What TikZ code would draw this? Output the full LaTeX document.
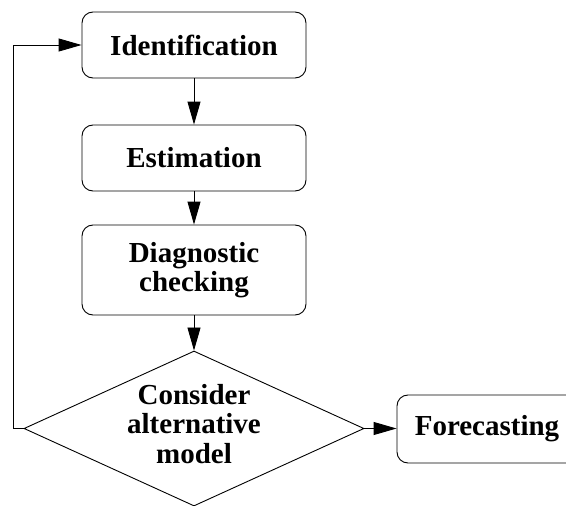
\documentclass[tikz,border=0pt]{standalone}
\usepackage{fontspec}
\setmainfont{Liberation Serif}
\usetikzlibrary{shapes.geometric,arrows.meta}
\begin{document}
\begin{tikzpicture}[x=1pt,y=-1pt,
  every node/.style={font=\fontsize{29}{29.5}\selectfont\bfseries, align=center},
  stagebox/.style={draw, line width=0.9pt, rounded corners=11pt, inner sep=0pt},
  decision/.style={draw, line width=0.9pt, shape=diamond, aspect=2.2, inner sep=0pt,
    minimum width=340pt, minimum height=155pt},
  flow/.style={draw, line width=0.9pt, -{Triangle[length=23pt,width=13pt]}}]
  \useasboundingbox (0,0) rectangle (566,506);
  \clip (0,0) rectangle (566,506);
  \node[stagebox, minimum width=224pt, minimum height=66pt] (id) at (194,45) {Identification};
  \node[stagebox, minimum width=224pt, minimum height=66pt] (est) at (194,158) {Estimation};
  \node[stagebox, minimum width=224pt, minimum height=90pt] (diag) at (194,270) {Diagnostic\\checking};
  \node[decision] (dec) at (194,428.5) {};
  \node (dectext) at (194,424) {Consider\\alternative\\model};
  \node[stagebox, minimum width=180pt, minimum height=68pt] (fore) at (487,429) {Forecasting};
  \coordinate (loop) at (13,428.5);
  \draw[flow] (id) -- (est);
  \draw[flow] (est) -- (diag);
  \draw[flow] (diag) -- (dec);
  \draw[flow] (dec.east) -- (fore.west |- dec.east);
  \draw[flow] (dec.west) -- (loop) |- (id.west);
\end{tikzpicture}
\end{document}
